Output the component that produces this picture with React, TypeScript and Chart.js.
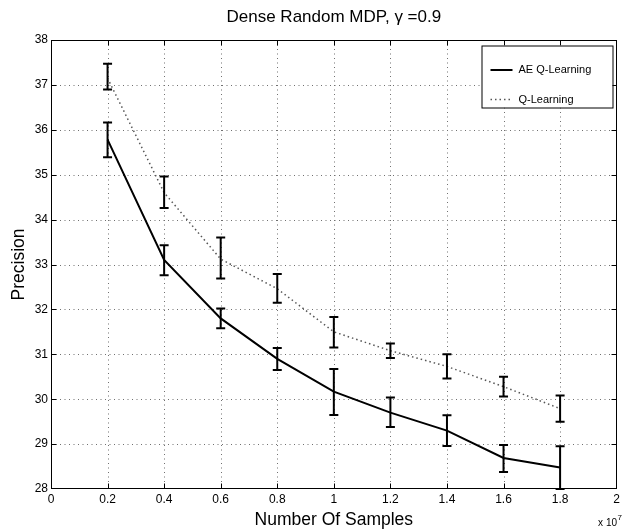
import React, { useEffect, useRef } from 'react';
import { Chart, registerables } from 'chart.js';

Chart.register(...registerables);

const FONT = '"Liberation Sans", Arial, Helvetica, sans-serif';

const titleText = 'Dense Random MDP, γ =0.9';
const xAxisTitle = 'Number Of Samples';
const yAxisTitle = 'Precision';
const seriesLabels = ['AE Q-Learning', 'Q-Learning'];

const xValues = [0.2, 0.4, 0.6, 0.8, 1.0, 1.2, 1.4, 1.6, 1.8];

const aeMean = [35.78, 33.1, 31.8, 30.9, 30.17, 29.7, 29.3, 28.69, 28.48];
const aeLow = [35.39, 32.76, 31.58, 30.65, 29.65, 29.38, 28.96, 28.38, 28.0];
const aeHigh = [36.16, 33.43, 32.02, 31.14, 30.67, 30.04, 29.64, 28.98, 28.95];

const qMean = [37.15, 34.6, 33.12, 32.46, 31.5, 31.08, 30.73, 30.28, 29.79];
const qLow = [36.9, 34.26, 32.69, 32.15, 31.15, 30.92, 30.46, 30.06, 29.5];
const qHigh = [37.47, 34.96, 33.6, 32.79, 31.83, 31.24, 31.0, 30.5, 30.08];

const xTicks = [0, 0.2, 0.4, 0.6, 0.8, 1, 1.2, 1.4, 1.6, 1.8, 2];
const xTickLabels = ['0', '0.2', '0.4', '0.6', '0.8', '1', '1.2', '1.4', '1.6', '1.8', '2'];
const yTicks = [28, 29, 30, 31, 32, 33, 34, 35, 36, 37, 38];
const yTickLabels = ['28', '29', '30', '31', '32', '33', '34', '35', '36', '37', '38'];
const xExponentBase = 'x 10';
const xExponent = '7';

const matlabPlugin = {
  id: 'matlabLook',
  beforeDatasetsDraw(chart: any) {
    const { ctx, chartArea: a, scales } = chart;
    const x = scales.x;
    const y = scales.y;
    ctx.save();
    ctx.strokeStyle = '#707070';
    ctx.lineWidth = 1;
    ctx.setLineDash([1, 3.5]);
    xTicks.forEach((t, i) => {
      if (i === 0 || i === xTicks.length - 1) return;
      const px = Math.round(x.getPixelForValue(t)) + 0.5;
      ctx.beginPath();
      ctx.moveTo(px, a.top);
      ctx.lineTo(px, a.bottom);
      ctx.stroke();
    });
    yTicks.forEach((t, i) => {
      if (i === 0 || i === yTicks.length - 1) return;
      const py = Math.round(y.getPixelForValue(t)) + 0.5;
      ctx.beginPath();
      ctx.moveTo(a.left, py);
      ctx.lineTo(a.right, py);
      ctx.stroke();
    });
    ctx.restore();
  },
  afterDatasetsDraw(chart: any) {
    const { ctx, chartArea: a, scales } = chart;
    const x = scales.x;
    const y = scales.y;
    ctx.save();
    ctx.strokeStyle = '#000';
    ctx.lineWidth = 2;
    ctx.setLineDash([]);
    const cap = 4.5;
    const drawBars = (lo: number[], hi: number[]) => {
      xValues.forEach((xv, i) => {
        const px = x.getPixelForValue(xv);
        const p1 = Math.min(y.getPixelForValue(lo[i]), a.bottom);
        const p2 = y.getPixelForValue(hi[i]);
        ctx.beginPath();
        ctx.moveTo(px, p1);
        ctx.lineTo(px, p2);
        ctx.moveTo(px - cap, p1);
        ctx.lineTo(px + cap, p1);
        ctx.moveTo(px - cap, p2);
        ctx.lineTo(px + cap, p2);
        ctx.stroke();
      });
    };
    drawBars(aeLow, aeHigh);
    drawBars(qLow, qHigh);

    ctx.lineWidth = 1;
    ctx.strokeStyle = '#000';
    const L = Math.round(a.left) + 0.5;
    const R = Math.round(a.right) - 0.5;
    const T = Math.round(a.top) + 0.5;
    const B = Math.round(a.bottom) - 0.5;
    ctx.strokeRect(L, T, R - L, B - T);

    const tl = 5;
    ctx.beginPath();
    xTicks.forEach((t, i) => {
      if (i === 0 || i === xTicks.length - 1) return;
      const px = Math.round(x.getPixelForValue(t)) + 0.5;
      ctx.moveTo(px, B);
      ctx.lineTo(px, B - tl);
      ctx.moveTo(px, T);
      ctx.lineTo(px, T + tl);
    });
    yTicks.forEach((t, i) => {
      if (i === 0 || i === yTicks.length - 1) return;
      const py = Math.round(y.getPixelForValue(t)) + 0.5;
      ctx.moveTo(L, py);
      ctx.lineTo(L + tl, py);
      ctx.moveTo(R, py);
      ctx.lineTo(R - tl, py);
    });
    ctx.stroke();

    // legend
    const lx = R - 135;
    const lw = 131;
    const ly = T + 5;
    const lh = 62;
    ctx.fillStyle = '#fff';
    ctx.fillRect(lx, ly, lw, lh);
    ctx.strokeRect(lx + 0.5, ly + 0.5, lw, lh);
    const y1 = ly + 24.5;
    const y2 = ly + 54;
    ctx.lineWidth = 2;
    ctx.beginPath();
    ctx.moveTo(lx + 9, y1);
    ctx.lineTo(lx + 31, y1);
    ctx.stroke();
    ctx.lineWidth = 1.5;
    ctx.strokeStyle = '#555';
    ctx.setLineDash([1.5, 3]);
    ctx.beginPath();
    ctx.moveTo(lx + 9, y2);
    ctx.lineTo(lx + 31, y2);
    ctx.stroke();
    ctx.setLineDash([]);
    ctx.fillStyle = '#000';
    ctx.font = `11px ${FONT}`;
    ctx.textAlign = 'left';
    ctx.textBaseline = 'middle';
    ctx.fillText(seriesLabels[0], lx + 37, y1);
    ctx.fillText(seriesLabels[1], lx + 37, y2);

    ctx.font = `10px ${FONT}`;
    ctx.textAlign = 'right';
    ctx.textBaseline = 'alphabetic';
    ctx.fillText(xExponentBase, 617, 526);
    ctx.font = `8px ${FONT}`;
    ctx.textAlign = 'left';
    ctx.fillText(xExponent, 617.5, 520);
    ctx.restore();
  },
};

export default function App() {
  const ref = useRef<HTMLCanvasElement | null>(null);
  useEffect(() => {
    document.body.style.margin = '0';
    const canvas = ref.current;
    if (!canvas) return;
    const chart = new Chart(canvas, {
      type: 'line',
      data: {
        datasets: [
          {
            label: seriesLabels[0],
            data: xValues.map((xv, i) => ({ x: xv, y: aeMean[i] })),
            borderColor: '#000',
            borderWidth: 2,
            pointRadius: 0,
            tension: 0,
            fill: false,
          },
          {
            label: seriesLabels[1],
            data: xValues.map((xv, i) => ({ x: xv, y: qMean[i] })),
            borderColor: '#555',
            borderWidth: 1.5,
            borderDash: [1.5, 3],
            pointRadius: 0,
            tension: 0,
            fill: false,
          },
        ],
      },
      options: {
        animation: false,
        responsive: false,
        devicePixelRatio: 1,
        layout: { padding: { left: 0, right: 4, top: 0, bottom: 0 } },
        plugins: {
          legend: { display: false },
          tooltip: { enabled: false },
          title: {
            display: true,
            fullSize: false,
            text: titleText,
            color: '#000',
            font: { family: FONT, size: 17, weight: 'normal', lineHeight: 1 },
            padding: { top: 8.5, bottom: 14.5 },
          },
        },
        scales: {
          x: {
            type: 'linear',
            min: 0,
            max: 2,
            afterBuildTicks: (s: any) => {
              s.ticks = xTicks.map((v) => ({ value: v }));
            },
            afterFit: (s: any) => {
              s.height = 42;
            },
            grid: { display: false, drawTicks: false },
            border: { display: false },
            ticks: {
              color: '#000',
              padding: 3,
              maxRotation: 0,
              autoSkip: false,
              font: { family: FONT, size: 12 },
              callback: (v: any) => {
                const i = xTicks.findIndex((t) => Math.abs(t - v) < 1e-9);
                return i >= 0 ? xTickLabels[i] : '';
              },
            },
            title: {
              display: true,
              text: xAxisTitle,
              color: '#000',
              font: { family: FONT, size: 17.5, lineHeight: 1 },
              padding: { top: 0, bottom: 2.5 },
            },
          },
          y: {
            type: 'linear',
            min: 28,
            max: 38,
            afterBuildTicks: (s: any) => {
              s.ticks = yTicks.map((v) => ({ value: v }));
            },
            afterFit: (s: any) => {
              s.width = 51;
            },
            grid: { display: false, drawTicks: false },
            border: { display: false },
            ticks: {
              color: '#000',
              padding: 3,
              autoSkip: false,
              font: { family: FONT, size: 12 },
              callback: (v: any) => {
                const i = yTicks.findIndex((t) => Math.abs(t - v) < 1e-9);
                return i >= 0 ? yTickLabels[i] : '';
              },
            },
            title: {
              display: true,
              text: yAxisTitle,
              color: '#000',
              font: { family: FONT, size: 17.5, lineHeight: 1 },
              padding: { top: 10.5, bottom: 0 },
            },
          },
        },
      },
      plugins: [matlabPlugin],
    });
    return () => chart.destroy();
  }, []);
  return <canvas ref={ref} width={623} height={531} style={{ display: 'block' }} />;
}
